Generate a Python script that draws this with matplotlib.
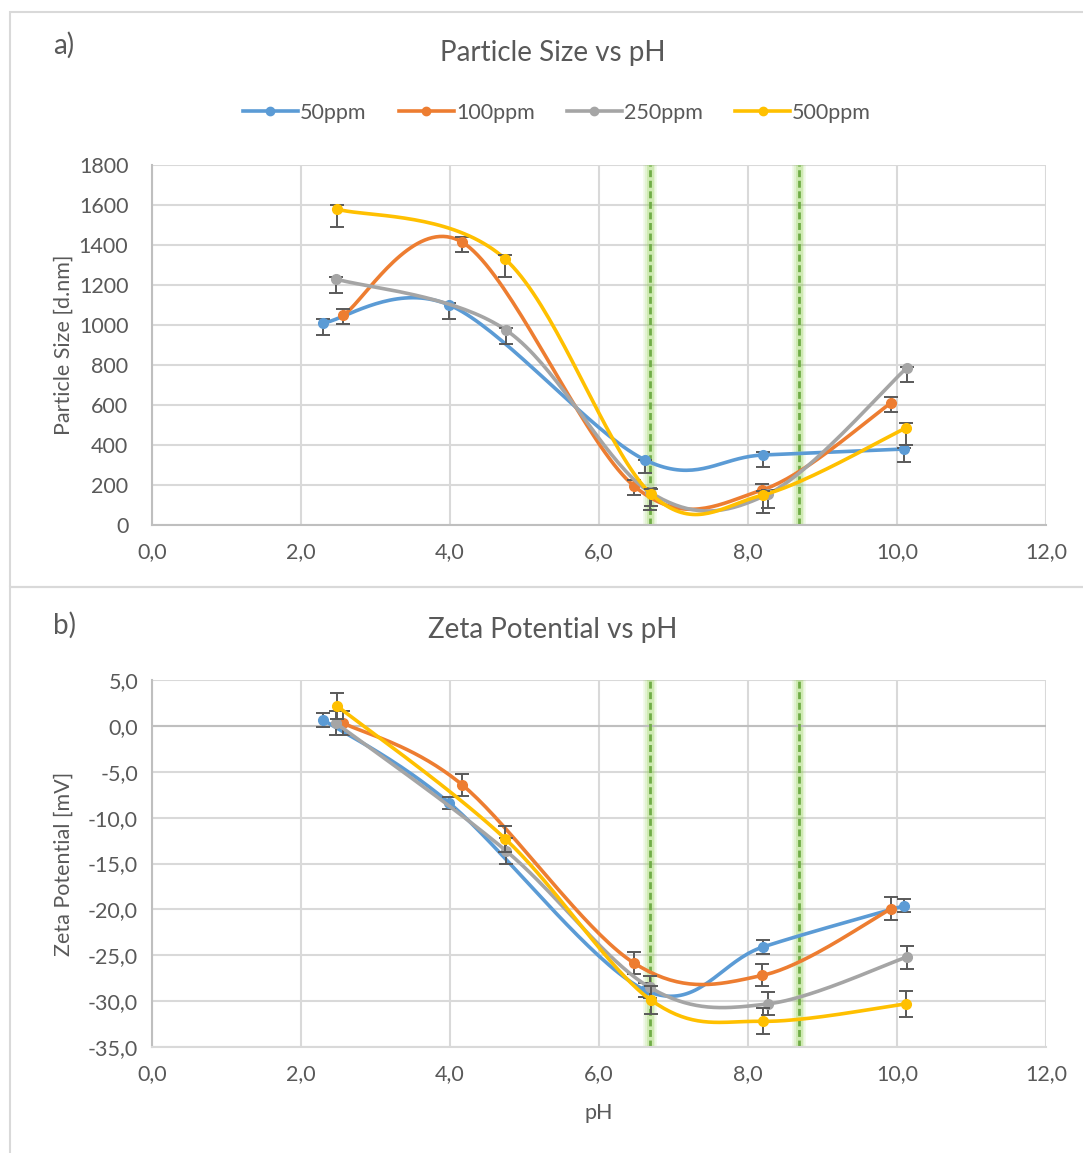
import numpy as np
import matplotlib
matplotlib.use("Agg")
import matplotlib.pyplot as plt
from matplotlib.patches import Rectangle

plt.rcParams['font.family'] = ['Lato', 'DejaVu Sans']

series = ["50ppm", "100ppm", "250ppm", "500ppm"]
colors = ["#5B9BD5", "#ED7D31", "#A5A5A5", "#FFC000"]

ph_50 = [2.30, 3.99, 6.62, 8.20, 10.10]
ph_100 = [2.57, 4.16, 6.47, 8.19, 9.92]
ph_250 = [2.47, 4.75, 6.68, 8.27, 10.13]
ph_500 = [2.48, 4.74, 6.70, 8.20, 10.12]

size_50 = [1010, 1100, 325, 350, 380]
size_100 = [1050, 1415, 195, 175, 610]
size_250 = [1230, 975, 165, 155, 785]
size_500 = [1580, 1330, 155, 150, 485]

size_err_lo_50 = [60, 70, 65, 60, 65]
size_err_hi_50 = [20, 10, 0, 15, 5]
size_err_lo_100 = [45, 50, 45, 35, 45]
size_err_hi_100 = [30, 25, 30, 30, 30]
size_err_lo_250 = [70, 70, 90, 70, 70]
size_err_hi_250 = [10, 10, 20, 20, 5]
size_err_lo_500 = [90, 90, 60, 90, 85]
size_err_hi_500 = [20, 20, 25, 20, 25]

zeta_50 = [0.65, -8.4, -28.8, -24.1, -19.6]
zeta_100 = [0.3, -6.4, -25.85, -27.2, -19.95]
zeta_250 = [0.3, -13.6, -28.5, -30.3, -25.2]
zeta_500 = [2.2, -12.3, -29.9, -32.2, -30.3]

zeta_err_50 = [0.75, 0.7, 0.8, 0.75, 0.7]
zeta_err_100 = [1.3, 1.2, 1.2, 1.2, 1.25]
zeta_err_250 = [1.3, 1.4, 1.2, 1.25, 1.25]
zeta_err_500 = [1.4, 1.4, 1.5, 1.4, 1.4]

marker_lines = [6.68, 8.68]

x_ticks = [0, 2, 4, 6, 8, 10, 12]
size_ticks = list(range(0, 2000, 200))
zeta_ticks = [5, 0, -5, -10, -15, -20, -25, -30, -35]

PH = [ph_50, ph_100, ph_250, ph_500]
SIZE = [size_50, size_100, size_250, size_500]
SIZE_LO = [size_err_lo_50, size_err_lo_100, size_err_lo_250, size_err_lo_500]
SIZE_HI = [size_err_hi_50, size_err_hi_100, size_err_hi_250, size_err_hi_500]
ZETA = [zeta_50, zeta_100, zeta_250, zeta_500]
ZERR = [zeta_err_50, zeta_err_100, zeta_err_250, zeta_err_500]

TXT = "#595959"
GRID = "#D9D9D9"
AXL = "#BFBFBF"
FS_TICK = 15.5
FS_TITLE = 20


def smooth(x, y, n=40):
    """Excel-like smoothed line (Catmull-Rom Bezier)."""
    p = np.column_stack([x, y]).astype(float)
    out = []
    m = len(p)
    for i in range(m - 1):
        p0 = p[i - 1] if i > 0 else p[i]
        p1 = p[i]
        p2 = p[i + 1]
        p3 = p[i + 2] if i + 2 < m else p[i + 1]
        c1 = p1 + (p2 - p0) / 6.0
        c2 = p2 - (p3 - p1) / 6.0
        t = np.linspace(0, 1, n)[:, None]
        seg = ((1 - t) ** 3) * p1 + 3 * ((1 - t) ** 2) * t * c1 + 3 * (1 - t) * t ** 2 * c2 + t ** 3 * p2
        out.append(seg if i == 0 else seg[1:])
    s = np.vstack(out)
    return s[:, 0], s[:, 1]


def fmt_comma(v):
    return ("%.1f" % v).replace(".", ",")


W, H = 1083, 1153
fig = plt.figure(figsize=(W / 100, H / 100), dpi=100)

# panel borders
fig.patches.append(Rectangle((10 / W, 1 - 587 / H), 1.2, (587 - 12) / H, transform=fig.transFigure,
                             fill=False, edgecolor=GRID, linewidth=1.5))
fig.patches.append(Rectangle((10 / W, -0.2), 1.2, 0.2 + (1 - 587 / H), transform=fig.transFigure,
                             fill=False, edgecolor=GRID, linewidth=1.5))

ax1 = fig.add_axes([152 / W, 1 - 525 / H, (1046 - 152) / W, (525 - 165) / H])
ax2 = fig.add_axes([152 / W, 1 - 1047 / H, (1046 - 152) / W, (1047 - 680) / H])


def style(ax):
    ax.set_xlim(0, 12)
    ax.set_xticks(x_ticks)
    ax.set_xticklabels([fmt_comma(v) for v in x_ticks])
    ax.grid(True, color=GRID, linewidth=1.5, zorder=0)
    ax.set_axisbelow(True)
    ax.tick_params(length=0, labelsize=FS_TICK, colors=TXT, pad=12)
    for s in ["top", "right"]:
        ax.spines[s].set_visible(False)
    ax.spines["left"].set_color(AXL)
    ax.spines["bottom"].set_color(AXL)
    ax.spines["left"].set_linewidth(1.5)
    ax.spines["bottom"].set_linewidth(1.5)
    for xv in marker_lines:
        for lw, a in [(10, 0.10), (7.5, 0.16), (5, 0.25)]:
            ax.axvline(xv, color="#92D050", alpha=a, linewidth=lw, zorder=1)
        ax.axvline(xv, color="#70AD47", linestyle=(0, (2.5, 1.3)), linewidth=2.0, zorder=1.5)


style(ax1)
ax1.set_ylim(0, 1800)
ax1.set_yticks(size_ticks)
ax1.set_yticklabels([str(v) for v in size_ticks])
ax1.tick_params(axis="y", pad=17)

handles = []
for k in range(4):
    xs, ys = smooth(PH[k], SIZE[k])
    ax1.plot(xs, ys, color=colors[k], linewidth=2.6, zorder=3 + k, solid_capstyle="round")
    ax1.errorbar(PH[k], SIZE[k], yerr=[SIZE_LO[k], SIZE_HI[k]], fmt="none", ecolor=TXT,
                 elinewidth=1.4, capsize=5, capthick=1.4, zorder=3 + k)
    ax1.plot(PH[k], SIZE[k], "o", color=colors[k], markersize=7, zorder=3.5 + k)
    h, = ax1.plot([], [], color=colors[k], linewidth=2.6, marker="o", markersize=6)
    handles.append(h)

ax1.set_ylabel("Particle Size [d.nm]", fontsize=FS_TICK, color=TXT, labelpad=4)
leg = fig.legend(handles, series, loc="center", bbox_to_anchor=(557 / W, 1 - 113 / H), ncol=4,
                 frameon=False, fontsize=FS_TICK, handlelength=2.55, columnspacing=1.5, handletextpad=0.1)
for t in leg.get_texts():
    t.set_color(TXT)

fig.text(553 / W, 1 - 53 / H, "Particle Size vs pH", ha="center", va="center", fontsize=FS_TITLE, color=TXT)
fig.text(53 / W, 1 - 45 / H, "a)", ha="left", va="center", fontsize=FS_TITLE, color=TXT)

style(ax2)
ax2.set_ylim(-35, 5)
ax2.set_yticks(zeta_ticks)
ax2.set_yticklabels([fmt_comma(v) for v in zeta_ticks])
ax2.tick_params(axis="y", pad=10)
ax2.spines["bottom"].set_color(GRID)
ax2.axhline(0, color=AXL, linewidth=1.5, zorder=1)

for k in range(4):
    xs, ys = smooth(PH[k], ZETA[k])
    ax2.plot(xs, ys, color=colors[k], linewidth=2.6, zorder=3 + k, solid_capstyle="round")
    ax2.errorbar(PH[k], ZETA[k], yerr=ZERR[k], fmt="none", ecolor=TXT,
                 elinewidth=1.4, capsize=5, capthick=1.4, zorder=3 + k)
    ax2.plot(PH[k], ZETA[k], "o", color=colors[k], markersize=7, zorder=3.5 + k)

ax2.set_ylabel("Zeta Potential [mV]", fontsize=FS_TICK, color=TXT, labelpad=10)
ax2.set_xlabel("pH", fontsize=FS_TICK, color=TXT, labelpad=14)

fig.text(553 / W, 1 - 630 / H, "Zeta Potential vs pH", ha="center", va="center", fontsize=FS_TITLE, color=TXT)
fig.text(53 / W, 1 - 625 / H, "b)", ha="left", va="center", fontsize=FS_TITLE, color=TXT)

fig.savefig("out.png", dpi=100)
